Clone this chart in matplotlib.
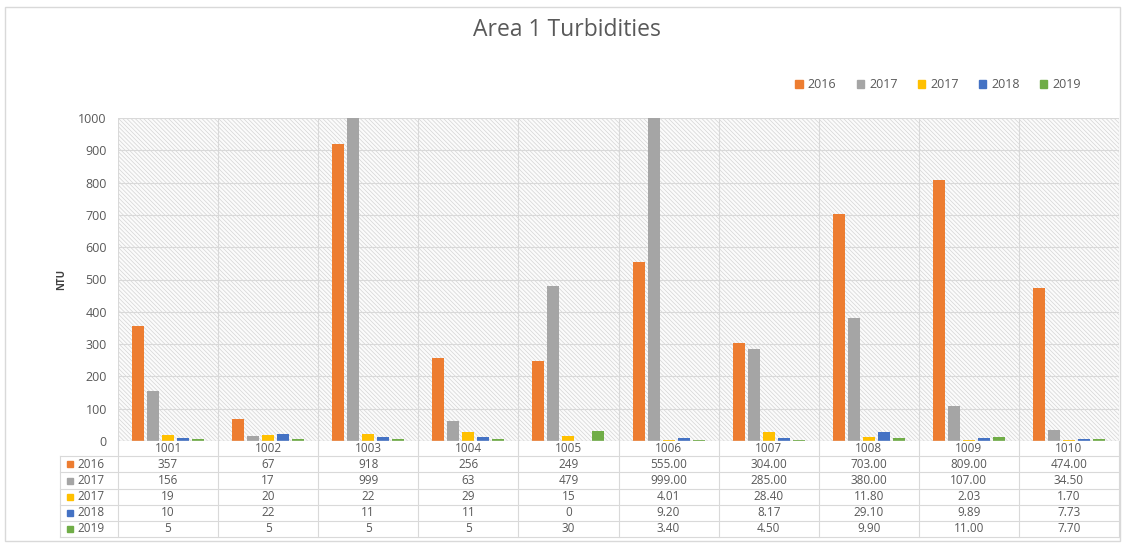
import matplotlib
matplotlib.use('Agg')
import matplotlib.pyplot as plt
from matplotlib.patches import Rectangle
from matplotlib.lines import Line2D
import numpy as np

# data
sites = ['1001', '1002', '1003', '1004', '1005', '1006', '1007', '1008', '1009', '1010']
series_names = ['2016', '2017', '2017', '2018', '2019']
v2016 = [357, 67, 918, 256, 249, 555.00, 304.00, 703.00, 809.00, 474.00]
v2017a = [156, 17, 999, 63, 479, 999.00, 285.00, 380.00, 107.00, 34.50]
v2017b = [19, 20, 22, 29, 15, 4.01, 28.40, 11.80, 2.03, 1.70]
v2018 = [10, 22, 11, 11, 0, 9.20, 8.17, 29.10, 9.89, 7.73]
v2019 = [5, 5, 5, 5, 30, 3.40, 4.50, 9.90, 11.00, 7.70]
# table text as shown in the source sheet
t2016 = ['357', '67', '918', '256', '249', '555.00', '304.00', '703.00', '809.00', '474.00']
t2017a = ['156', '17', '999', '63', '479', '999.00', '285.00', '380.00', '107.00', '34.50']
t2017b = ['19', '20', '22', '29', '15', '4.01', '28.40', '11.80', '2.03', '1.70']
t2018 = ['10', '22', '11', '11', '0', '9.20', '8.17', '29.10', '9.89', '7.73']
t2019 = ['5', '5', '5', '5', '30', '3.40', '4.50', '9.90', '11.00', '7.70']

values = [v2016, v2017a, v2017b, v2018, v2019]
texts = [t2016, t2017a, t2017b, t2018, t2019]
colors = ['#ED7D31', '#A5A5A5', '#FFC000', '#4472C4', '#70AD47']

plt.rcParams['font.family'] = ['Open Sans', 'DejaVu Sans']
plt.rcParams['hatch.linewidth'] = 0.5
txtc = '#595959'
gridc = '#d9d9d9'

W, H = 1134, 544
fig = plt.figure(figsize=(W/100, H/100), dpi=100)

def fx(px):
    return px / W

def fy(py):
    return 1 - py / H

# chart border
fig.add_artist(Rectangle((fx(5), fy(541)), fx(1120) - fx(5), fy(7) - fy(541),
                         transform=fig.transFigure, fill=False, edgecolor=gridc, lw=1))

left, right, top, bottom = 118, 1119, 118, 441
ax = fig.add_axes([fx(left), fy(bottom), fx(right) - fx(left), fy(top) - fy(bottom)])

n = len(sites)
x = np.arange(n)
# hatched plot background
ax.add_patch(Rectangle((0, 0), 1, 1, transform=ax.transAxes, facecolor='#fbfbfb',
                       edgecolor='#d4d4d4', hatch='\\\\\\\\\\\\\\\\', lw=0, zorder=0))
for i, (vals, c) in enumerate(zip(values, colors)):
    ax.bar(x + (i - 2) * 0.15, vals, width=0.12, color=c, zorder=3)

ax.set_xlim(-0.5, n - 0.5)
ax.set_ylim(0, 1000)
ax.set_yticks(np.arange(0, 1001, 100))
ax.tick_params(axis='y', length=0, labelsize=9, labelcolor=txtc, pad=8)
ax.set_xticks([])
for y in np.arange(100, 1001, 100):
    ax.axhline(y, color=gridc, lw=0.8, zorder=1)
for b in np.arange(-0.5, n, 1.0):
    ax.axvline(b, color=gridc, lw=0.8, zorder=1)
for s in ax.spines.values():
    s.set_visible(False)
ax.axhline(0, color=gridc, lw=1, zorder=4)
ax.set_ylabel('NTU', fontsize=7, color='#404040', labelpad=8, fontweight='bold')

# data table under the plot
rows_y = [441, 456, 472, 489, 505, 521, 537]
tf = fig.transFigure
for ry in rows_y[1:]:
    fig.add_artist(Line2D([fx(60), fx(right)], [fy(ry), fy(ry)], transform=tf, color=gridc, lw=0.8))
fig.add_artist(Line2D([fx(60), fx(60)], [fy(456), fy(537)], transform=tf, color=gridc, lw=0.8))
colw = (right - left) / n
for k in range(n + 1):
    xx = left + k * colw
    fig.add_artist(Line2D([fx(xx), fx(xx)], [fy(441), fy(537)], transform=tf, color=gridc, lw=0.8))
for k, s in enumerate(sites):
    fig.text(fx(left + (k + 0.5) * colw), fy(448.5), s, ha='center', va='center',
             fontsize=8.5, color=txtc)
for r in range(len(series_names)):
    yc = (rows_y[r + 1] + rows_y[r + 2]) / 2
    fig.add_artist(Rectangle((fx(67), fy(yc + 3)), fx(6), fy(yc - 3) - fy(yc + 3),
                             transform=tf, color=colors[r]))
    fig.text(fx(77), fy(yc), series_names[r], ha='left', va='center', fontsize=8.5, color=txtc)
    for k in range(n):
        fig.text(fx(left + (k + 0.5) * colw), fy(yc), texts[r][k], ha='center', va='center',
                 fontsize=8.5, color=txtc)

fig.text(0.5, fy(30), 'Area 1 Turbidities', ha='center', va='center', fontsize=16.5,
         color=txtc, fontstretch='expanded')

handles = [Rectangle((0, 0), 1, 1, color=c) for c in colors]
fig.legend(handles, series_names, loc='center', bbox_to_anchor=(fx(938), fy(85)), ncol=5,
           frameon=False, fontsize=9, labelcolor=txtc, handlelength=0.6, handleheight=0.6,
           handletextpad=0.4, columnspacing=1.6)

fig.savefig('out.png', dpi=100, facecolor='white')
